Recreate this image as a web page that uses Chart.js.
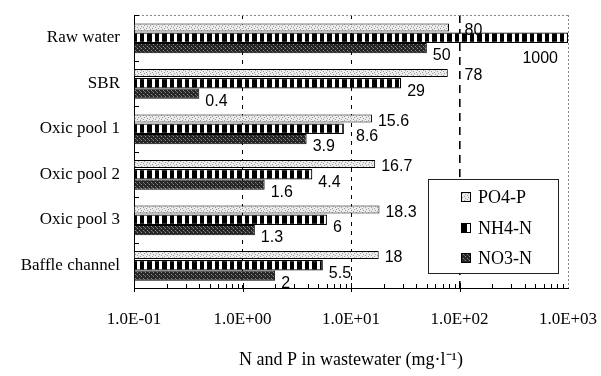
<!DOCTYPE html>
<html lang="en">
  <head>
    <meta charset="utf-8" />
    <title>N and P in wastewater</title>
    <style>
      * {
        margin: 0;
        padding: 0;
      }
      body {
        background: #fff;
      }
      .chartBox {
        width: 601px;
        height: 376px;
      }
    </style>
  </head>
  <body>
    <div class="chartBox">
      <canvas id="myChart"></canvas>
    </div>

    <script src="https://cdn.jsdelivr.net/npm/chart.js"></script>

    <script>
      // data block
      const categories = ["Raw water", "SBR", "Oxic pool 1", "Oxic pool 2", "Oxic pool 3", "Baffle channel"];
      const po4p = [80, 78, 15.6, 16.7, 18.3, 18];
      const nh4n = [1000, 29, 8.6, 4.4, 6, 5.5];
      const no3n = [50, 0.4, 3.9, 1.6, 1.3, 2];
      const tickValues = [0.1, 1, 10, 100, 1000];
      const tickLabels = ["1.0E-01", "1.0E+00", "1.0E+01", "1.0E+02", "1.0E+03"];

      const serif = "'Liberation Serif', 'Times New Roman', serif";
      const sans = "'Liberation Sans', Arial, sans-serif";

      // small canvas patterns for the scanned-looking bar fills
      function makePattern(w, h, draw) {
        const c = document.createElement("canvas");
        c.width = w;
        c.height = h;
        const g = c.getContext("2d");
        draw(g);
        return g.createPattern(c, "repeat");
      }

      const po4Fill = makePattern(6, 4, (g) => {
        g.fillStyle = "#ececec";
        g.fillRect(0, 0, 6, 4);
        g.fillStyle = "#9a9a9a";
        g.fillRect(0, 1, 1, 1);
        g.fillRect(2, 0, 1, 1);
        g.fillRect(3, 2, 1, 1);
        g.fillRect(5, 3, 1, 1);
      });
      const nh4Fill = makePattern(15, 1, (g) => {
        g.fillStyle = "#000";
        g.fillRect(0, 0, 15, 1);
        g.fillStyle = "#fff";
        g.fillRect(2, 0, 3, 1);
        g.fillRect(9, 0, 3, 1);
      });
      const no3Fill = makePattern(4, 4, (g) => {
        g.fillStyle = "#262626";
        g.fillRect(0, 0, 4, 4);
        g.fillStyle = "#8c8c8c";
        g.fillRect(1, 0, 1, 1);
        g.fillRect(3, 2, 1, 1);
        g.fillStyle = "#5a5a5a";
        g.fillRect(0, 3, 1, 1);
      });

      const data = {
        labels: categories,
        datasets: [
          {
            label: "PO4-P",
            data: po4p,
            backgroundColor: po4Fill,
            borderColor: "#000",
            borderWidth: 1,
            barPercentage: 0.78,
          },
          {
            label: "NH4-N",
            data: nh4n,
            backgroundColor: nh4Fill,
            borderColor: "#000",
            borderWidth: 1.2,
            barPercentage: 1,
          },
          {
            label: "NO3-N",
            data: no3n,
            backgroundColor: no3Fill,
            borderColor: "#000",
            borderWidth: 1,
            barPercentage: 1,
          },
        ],
      };

      // value labels at the end of each bar
      const barLabels = {
        id: "barLabels",
        afterDatasetsDraw(chart, args, opts) {
          const { ctx, chartArea, scales: { x } } = chart;
          const gridPx = [1, 10, 100].map((v) => x.getPixelForValue(v));
          ctx.save();
          ctx.font = "16px " + sans;
          ctx.fillStyle = "#000";
          ctx.textBaseline = "middle";
          chart.data.datasets.forEach((ds, i) => {
            const meta = chart.getDatasetMeta(i);
            meta.data.forEach((bar, j) => {
              const text = String(ds.data[j]);
              const w = ctx.measureText(text).width;
              let tx = bar.x + 6;
              let ty = bar.y + opts.shift[i];
              ctx.textAlign = "left";
              gridPx.forEach((g) => {
                if (g >= bar.x - 1 && g < tx + 6) tx = g + 5;
              });
              if (tx + w > chartArea.right) {
                // no room on the right: tuck it under the bar end
                ctx.textAlign = "right";
                tx = chartArea.right - 10;
                ty = bar.y + 21;
              }
              ctx.fillText(text, tx, ty);
            });
          });
          ctx.restore();
        },
      };

      // dotted frame, inward ticks
      const frame = {
        id: "frame",
        afterDatasetsDraw(chart) {
          const { ctx, chartArea: { top, bottom, left, right }, scales: { x, y } } = chart;
          ctx.save();
          ctx.strokeStyle = "#8a8a8a";
          ctx.lineWidth = 1;
          ctx.setLineDash([2, 2]);
          ctx.beginPath();
          ctx.moveTo(left, top + 0.5);
          ctx.lineTo(right, top + 0.5);
          ctx.moveTo(right + 0.5, top);
          ctx.lineTo(right + 0.5, bottom);
          ctx.stroke();
          ctx.setLineDash([]);
          ctx.strokeStyle = "#000";
          ctx.beginPath();
          for (let i = 0; i <= categories.length; i++) {
            const py = Math.round(y.getPixelForValue(i - 0.5)) + 0.5;
            ctx.moveTo(left, py);
            ctx.lineTo(left + 5, py);
          }
          for (let d = -1; d < 3; d++) {
            for (let k = 1; k < 10; k++) {
              const px = Math.round(x.getPixelForValue(k * Math.pow(10, d))) + 0.5;
              if (k === 1) {
                ctx.moveTo(px, bottom - 5);
                ctx.lineTo(px, bottom + 4);
              } else {
                ctx.moveTo(px, bottom - 4);
                ctx.lineTo(px, bottom);
              }
            }
          }
          ctx.stroke();
          ctx.restore();
        },
      };

      // boxed legend inside the plot
      const boxLegend = {
        id: "boxLegend",
        afterDraw(chart) {
          const { ctx, chartArea } = chart;
          const left = chartArea.right - 140;
          const top = chartArea.top + 164;
          ctx.save();
          ctx.fillStyle = "#fff";
          ctx.fillRect(left, top, 130, 94);
          ctx.strokeStyle = "#222";
          ctx.lineWidth = 1;
          ctx.strokeRect(left + 0.5, top + 0.5, 130, 94);
          ctx.font = "18px " + serif;
          ctx.textBaseline = "middle";
          chart.data.datasets.forEach((ds, i) => {
            const cy = Math.round(top + 18 + i * 30.5);
            ctx.fillStyle = ds.backgroundColor;
            ctx.fillRect(left + 33, cy - 5, 10, 10);
            ctx.strokeStyle = "#000";
            ctx.strokeRect(left + 33.5, cy - 4.5, 9, 9);
            ctx.fillStyle = "#000";
            ctx.fillText(ds.label, left + 50, cy + 1);
          });
          ctx.restore();
        },
      };

      const dashFor = (v) => (v === 100 ? [8, 6] : [4, 5]);

      // config block
      const config = {
        type: "bar",
        data: data,
        options: {
          indexAxis: "y",
          responsive: true,
          maintainAspectRatio: false,
          animation: false,
          datasets: {
            bar: {
              categoryPercentage: 0.68,
              base: 0.1,
            },
          },
          layout: {
            padding: { top: 15, right: 33, left: 0, bottom: 0 },
          },
          scales: {
            x: {
              type: "logarithmic",
              min: 0.1,
              max: 1000,
              afterBuildTicks(scale) {
                scale.ticks = tickValues.map((v) => ({ value: v, major: true }));
              },
              afterFit(scale) {
                scale.height = 88;
                scale.paddingLeft = 0;
                scale.paddingRight = 0;
              },
              ticks: {
                autoSkip: false,
                maxRotation: 0,
                padding: 21,
                color: "#000",
                font: { family: serif, size: 17 },
                callback: (value, index) => tickLabels[index],
              },
              grid: {
                drawTicks: false,
                color: (c) => (c.tick && [1, 10, 100].includes(c.tick.value) ? "#000" : "transparent"),
                lineWidth: (c) => (c.tick && c.tick.value === 100 ? 1.6 : 1),
              },
              border: {
                display: true,
                color: "#000",
                width: 1,
                dash: (c) => (c.tick ? dashFor(c.tick.value) : []),
              },
              title: {
                display: true,
                text: "N and P in wastewater (mg·l⁻¹)",
                color: "#000",
                font: { family: serif, size: 18 },
                padding: { top: 0, bottom: 5 },
              },
            },
            y: {
              afterFit(scale) {
                scale.width = 134;
                scale.paddingTop = 0;
                scale.paddingBottom = 0;
              },
              ticks: {
                padding: 14,
                color: "#000",
                font: { family: serif, size: 17 },
              },
              grid: {
                display: false,
                drawTicks: false,
              },
              border: {
                display: true,
                color: "#000",
                width: 1,
              },
            },
          },
          plugins: {
            legend: { display: false },
            tooltip: { enabled: false },
            barLabels: { shift: [3, 8, 8] },
          },
        },
        plugins: [barLabels, frame, boxLegend],
      };

      // init render block
      const myChart = new Chart(document.getElementById("myChart"), config);
    </script>
  </body>
</html>
